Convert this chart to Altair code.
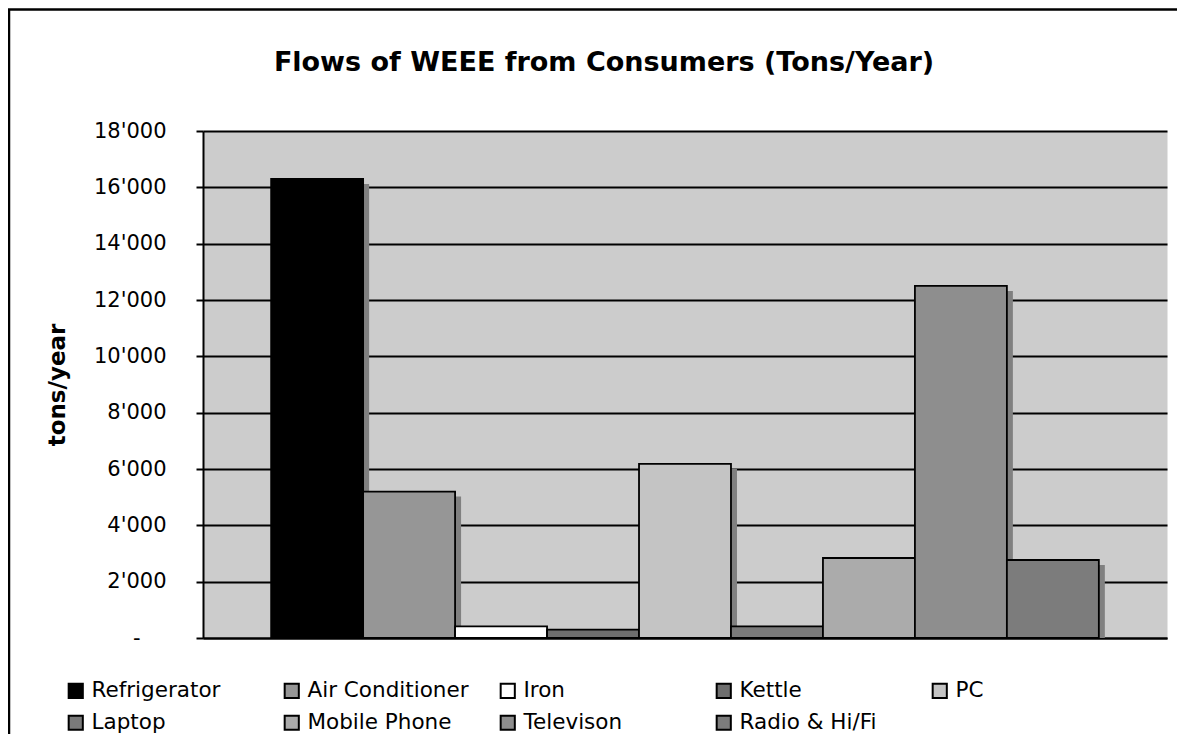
import altair as alt
import pandas as pd

# ---- data ----
items = ["Refrigerator", "Air Conditioner", "Iron", "Kettle", "PC",
         "Laptop", "Mobile Phone", "Televison", "Radio & Hi/Fi"]
tons = [16300, 5200, 410, 300, 6180, 410, 2840, 12500, 2770]
fills = ["#000000", "#969696", "#ffffff", "#6e6e6e", "#c4c4c4",
         "#7a7a7a", "#ababab", "#8e8e8e", "#7c7c7c"]
y_ticks = [0, 2000, 4000, 6000, 8000, 10000, 12000, 14000, 16000, 18000]
title_text = "Flows of WEEE from Consumers (Tons/Year)"
y_title = "tons/year"

df = pd.DataFrame({"item": items, "tons": tons})
one = pd.DataFrame({"k": [0]})

FONT = "DejaVu Sans"
W, H = 964, 507

x_enc = alt.X(
    "item:N", sort=items,
    scale=alt.Scale(paddingInner=0, paddingOuter=0.741),
    axis=alt.Axis(labels=False, ticks=False, title=None, grid=False,
                  domainColor="black", domainWidth=2),
)
y_enc = alt.Y(
    "tons:Q",
    scale=alt.Scale(domain=[0, 18000], nice=False),
    axis=alt.Axis(
        values=y_ticks,
        labelExpr="datum.value == 0 ? '-' : replace(format(datum.value, ',d'), ',', \"'\")",
        labelFont=FONT, labelFontSize=21, labelColor="black",
        labelPadding={"condition": {"test": "datum.value == 0", "value": 56}, "value": 30},
        tickSize=7, tickColor="black", tickWidth=2,
        domainColor="black", domainWidth=2,
        grid=True, gridColor="black", gridWidth=2, gridOpacity=1,
        title=y_title, titleFont=FONT, titleFontSize=23, titleFontWeight="bold",
        titleColor="black", titleX=-146, titleY=253.5, titleBaseline="middle",
    ),
)

base = alt.Chart(df)

shadow = base.mark_bar(color="#808080", xOffset=6, yOffset=5, y2Offset=0).encode(
    x=x_enc, y=y_enc, y2=alt.datum(0)
)

bars = base.mark_bar(stroke="black", strokeWidth=1.8, opacity=1).encode(
    x=x_enc,
    y=y_enc,
    color=alt.Color(
        "item:N", sort=items,
        scale=alt.Scale(domain=items, range=fills),
        legend=alt.Legend(
            title=None, orient="none", legendX=-138, legendY=549,
            direction="horizontal", columns=5, gridAlign="all",
            columnPadding=27, rowPadding=9, padding=0,
            symbolType="square", symbolSize=200, symbolStrokeColor="black",
            symbolStrokeWidth=2, symbolOpacity=1,
            labelFont=FONT, labelFontSize=21.5, labelColor="black",
            labelOffset=5, labelLimit=400,
        ),
    ),
)

frame = alt.Chart(one).mark_rect(fill="white", fillOpacity=0, stroke="black", strokeWidth=2.5).encode(
    x=alt.value(-194), x2=alt.value(1400), y=alt.value(-121.5), y2=alt.value(900)
)

title = alt.Chart(one).mark_text(
    text=title_text, font=FONT, fontSize=27, fontWeight="bold",
    align="center", baseline="middle", color="black",
).encode(x=alt.value(401), y=alt.value(-68))

chart = alt.layer(frame, shadow, bars, title).properties(
    width=W, height=H,
    autosize=alt.AutoSizeParams(type="none"),
    padding={"left": 195, "top": 123, "right": 10, "bottom": 96},
).configure_view(fill="#cccccc", stroke="transparent")

chart.save("out.html", embed_options={"renderer": "svg", "actions": False})
